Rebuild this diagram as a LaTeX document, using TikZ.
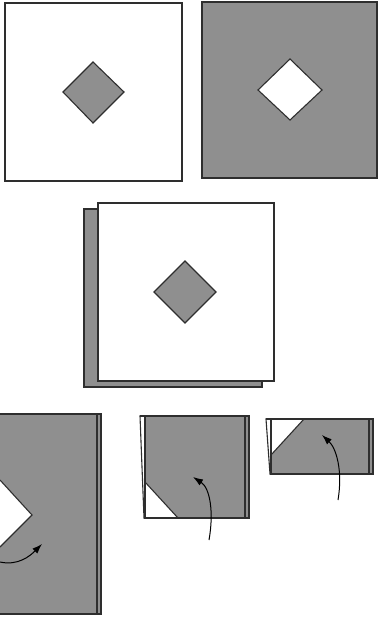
\documentclass[tikz,border=0pt]{standalone}
\usepackage{tikz}
\usetikzlibrary{arrows.meta}
\definecolor{papergray}{gray}{0.56}
\definecolor{edgegray}{gray}{0.18}
\tikzset{
    sheet/.style={draw=edgegray, line width=1.1pt},
    greysheet/.style={sheet, fill=papergray},
    whitesheet/.style={sheet, fill=white},
    hole/.style={draw=edgegray, line width=1.1pt},
    foldarrow/.style={-{Latex[length=10pt,width=7pt]}, line width=1pt, draw=black}
}

\begin{document}
\begin{tikzpicture}[x=1pt, y=-1pt]
    \useasboundingbox (0,0) rectangle (378,617);

    % Top row: white sheet with grey diamond, grey sheet with white diamond
    \draw[whitesheet] (5,3) rectangle (182,181);
    \draw[hole, fill=papergray] (93,62) -- (124,92) -- (93,123) -- (63,92) -- cycle;
    \draw[greysheet] (202,2) rectangle (377,178);
    \draw[hole, fill=white] (290,59) -- (322,90) -- (290,120) -- (258,90) -- cycle;

    % Middle: two sheets stacked
    \draw[greysheet] (84,209) rectangle (262,387);
    \draw[whitesheet] (98,203) rectangle (274,381);
    \draw[hole, fill=papergray] (185,261) -- (216,292) -- (185,323) -- (154,292) -- cycle;

    % Bottom left: tall strip with notch
    \fill[papergray] (0,414) rectangle (101,614);
    \draw[sheet] (0,414) -- (101,414) -- (101,614) -- (0,614);
    \draw[sheet] (97,414) -- (97,614);
    \draw[hole, fill=white] (0,480) -- (32,515) -- (0,547);
    \coordinate (bl-start) at (0,562);
    \coordinate (bl-tip) at (42,544);
    \draw[foldarrow] (bl-start) .. controls (18,566) and (30,556) .. (bl-tip);

    % Bottom middle: square with folded corner
    \draw[sheet, fill=white] (140,416) -- (145,416) -- (145,518) -- (144,518) -- cycle;
    \fill[papergray] (145,416) rectangle (249,518);
    \fill[white] (145,482) -- (178,518) -- (145,518) -- cycle;
    \draw[sheet] (140,416) -- (249,416) -- (249,518) -- (144,518);
    \draw[sheet] (145,416) -- (145,518);
    \draw[sheet] (245,416) -- (245,518);
    \draw[hole] (145,482) -- (178,518);
    \coordinate (bm-start) at (209,540);
    \coordinate (bm-tip) at (193,477);
    \draw[foldarrow] (bm-start) .. controls (214,512) and (210,488) .. (bm-tip);

    % Bottom right: folded strip
    \draw[sheet, fill=white] (266,419) -- (271,419) -- (271,474) -- (270,474) -- cycle;
    \fill[papergray] (271,419) rectangle (373,474);
    \fill[white] (271,419) -- (304,419) -- (271,455) -- cycle;
    \draw[sheet] (266,419) -- (373,419) -- (373,474) -- (270,474);
    \draw[sheet] (271,419) -- (271,474);
    \draw[sheet] (369,419) -- (369,474);
    \draw[hole] (304,419) -- (271,455);
    \coordinate (br-start) at (338,500);
    \coordinate (br-tip) at (322,435);
    \draw[foldarrow] (br-start) .. controls (343,470) and (336,448) .. (br-tip);
\end{tikzpicture}
\end{document}
